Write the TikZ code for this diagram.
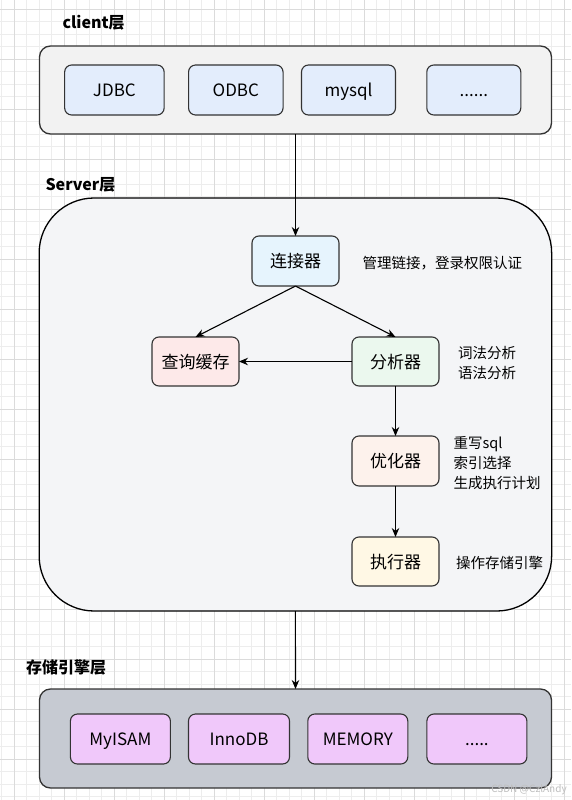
\documentclass[tikz,border=0pt]{standalone}
\usepackage{fontspec}
\setmainfont{Noto Sans CJK SC}
\usetikzlibrary{arrows.meta}
\definecolor{clientfill}{HTML}{F2F2F2}
\definecolor{bluefill}{HTML}{E3EDFC}
\definecolor{serverfill}{HTML}{F4F5F7}
\definecolor{connfill}{HTML}{E6F4FD}
\definecolor{cachefill}{HTML}{FDE9E9}
\definecolor{anafill}{HTML}{EBF8EE}
\definecolor{optfill}{HTML}{FDF2EC}
\definecolor{exefill}{HTML}{FFF8E5}
\definecolor{storefill}{HTML}{C6CAD2}
\definecolor{engfill}{HTML}{F0C8FA}
\definecolor{edge}{HTML}{333333}
\begin{document}
\begin{tikzpicture}[x=1pt,y=-1pt,
  every node/.style={inner sep=0pt, outer sep=0pt},
  gridminor/.style={draw=black!7, line width=0.6pt},
  gridmajor/.style={draw=black!14, line width=0.7pt},
  cont/.style={draw=edge, line width=1.3pt, rounded corners=11pt},
  item/.style={draw=edge, line width=1.1pt, rounded corners=7pt, minimum height=50pt, text height=14.5pt, text depth=1.5pt, font=\fontsize{17}{20}\selectfont},
  note/.style={anchor=west, align=left, font=\fontsize{14.5}{20}\selectfont},
  layer/.style={anchor=west, font=\bfseries\fontsize{16}{19}\selectfont},
  arr/.style={draw=black, line width=1.1pt, -{Stealth[length=9pt,width=7.5pt]}}
]
\useasboundingbox (0,0) rectangle (571,800);
\fill[white] (0,0) rectangle (571,800);
% grid
\foreach \i in {0,...,45} { \draw[gridminor] ({1.5+12.5*\i},0) -- ({1.5+12.5*\i},800); }
\foreach \i in {1,...,64} { \draw[gridminor] (0,{-3.5+12.5*\i}) -- (571,{-3.5+12.5*\i}); }
\foreach \i in {0,...,11} { \draw[gridmajor] ({14+50*\i},0) -- ({14+50*\i},800); }
\foreach \i in {0,...,15} { \draw[gridmajor] (0,{9+50*\i}) -- (571,{9+50*\i}); }

% client layer
\node[layer] (lclient) at (62.5,22.5) {client层};
\node[cont, fill=clientfill, minimum width=512pt, minimum height=88pt] (client) at (295.5,90) {};
\node[item, fill=bluefill, minimum width=99.5pt] (jdbc) at (114.4,90) {JDBC};
\node[item, fill=bluefill, minimum width=94.5pt] (odbc) at (235.8,90) {ODBC};
\node[item, fill=bluefill, minimum width=94pt] (mysql) at (348.5,90) {mysql};
\node[item, fill=bluefill, minimum width=94pt] (cdots) at (473.8,90) {......};

% server layer
\node[layer] (lserver) at (45.5,185) {Server层};
\node[draw=black, line width=1.3pt, rounded corners=55pt, fill=serverfill, minimum width=512.5pt, minimum height=413pt] (server) at (295.4,404.5) {};
\node[item, fill=connfill, minimum width=87pt] (conn) at (295.5,261) {连接器};
\node[item, fill=cachefill, minimum width=87pt, minimum height=49pt] (cache) at (195.5,361.5) {查询缓存};
\node[item, fill=anafill, minimum width=87pt, minimum height=49pt] (ana) at (395.5,361.5) {分析器};
\node[item, fill=optfill, minimum width=87pt] (opt) at (395.5,461) {优化器};
\node[item, fill=exefill, minimum width=87pt, minimum height=49pt] (exe) at (395.5,561.5) {执行器};
\node[note] (nconn) at (362.5,263) {管理链接，登录权限认证};
\node[note] (nana) at (458,363) {词法分析\\语法分析};
\node[note] (nopt) at (453.5,463) {重写sql\\索引选择\\生成执行计划};
\node[note] (nexe) at (456,563) {操作存储引擎};

% storage layer
\node[layer] (lstore) at (26,667) {存储引擎层};
\node[cont, fill=storefill, minimum width=512pt, minimum height=99pt] (store) at (295.5,738.5) {};
\node[item, fill=engfill, minimum width=100pt] (myisam) at (120.4,739) {MyISAM};
\node[item, fill=engfill, minimum width=101pt] (innodb) at (239,739) {InnoDB};
\node[item, fill=engfill, minimum width=100pt] (memory) at (357.8,739) {MEMORY};
\node[item, fill=engfill, minimum width=100pt] (edots) at (476.9,739) {.....};
\node[font=\fontsize{10}{12}\selectfont, text=black!25] (wm) at (529,790) {CSDN @CzlAndy};

% connectors
\draw[arr] (client.south) -- (conn.north);
\draw[arr] (conn.south) -- (cache.north);
\draw[arr] (conn.south) -- (ana.north);
\draw[arr] (ana.west) -- (cache.east);
\draw[arr] (ana.south) -- (opt.north);
\draw[arr] (opt.south) -- (exe.north);
\draw[arr] (server.south) -- (store.north);
\end{tikzpicture}
\end{document}
